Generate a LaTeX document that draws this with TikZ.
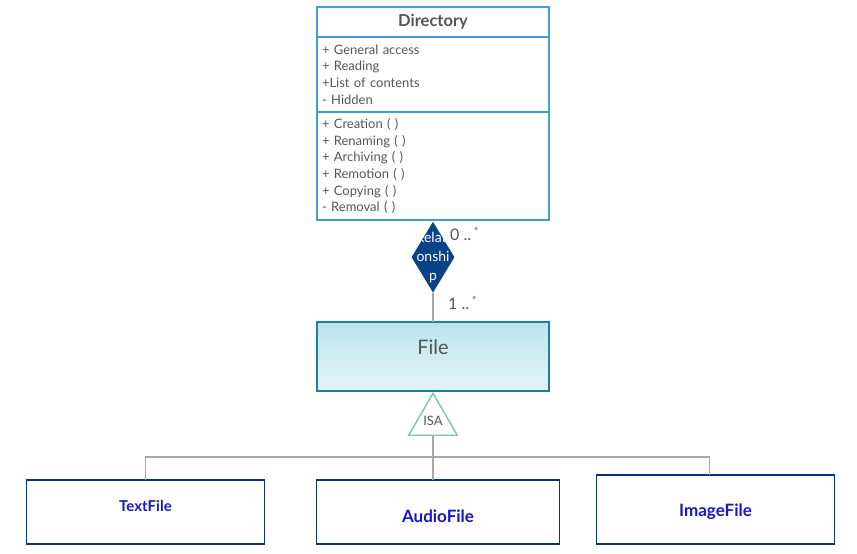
\documentclass[tikz,border=0pt]{standalone}
\usepackage{fontspec}
\setmainfont{Lato}
\usepackage{tikz}
\usetikzlibrary{positioning}
\usetikzlibrary{shapes.geometric}
\definecolor{dirline}{RGB}{64,158,210}
\definecolor{fileline}{RGB}{28,128,160}
\definecolor{filetop}{RGB}{188,228,237}
\definecolor{filebot}{RGB}{228,244,248}
\definecolor{navy}{RGB}{12,48,120}
\definecolor{subtext}{RGB}{22,22,205}
\definecolor{relfill}{RGB}{10,66,136}
\definecolor{isagreen}{RGB}{118,196,164}
\definecolor{linkgrey}{RGB}{168,168,168}
\definecolor{greytext}{RGB}{85,85,85}

\begin{document}
\begin{tikzpicture}[x=1pt,y=1pt,
  box/.style={rectangle,draw=dirline,line width=1.6pt,outer sep=0pt,minimum width=232pt,inner xsep=5pt,inner ysep=0pt,text=greytext},
  members/.style={box,text width=222pt,align=left,font=\fontsize{13}{16.7}\selectfont},
  sub/.style={rectangle,draw=navy,line width=1.6pt,outer sep=0pt,minimum height=64pt},
  subname/.style={text=subtext,font=\fontsize{17}{20}\selectfont\bfseries},
  link/.style={draw=linkgrey,line width=1.7pt},
  mult/.style={inner sep=0pt,text=greytext,font=\fontsize{16}{18}\selectfont}]

  \useasboundingbox (0,0) rectangle (857,-554);

  % Directory
  \node[box,minimum height=30pt,font=\fontsize{16.5}{18}\selectfont\bfseries] (dirname) at (433,-22) {Directory};
  \node[members,minimum height=75pt] (dirattr) [below=0pt of dirname]
    {+ General access\\+ Reading\\+List of contents\\- Hidden};
  \node[members,minimum height=108pt] (dirops) [below=0pt of dirattr]
    {+ Creation ( )\\+ Renaming ( )\\+ Archiving ( )\\+ Remotion ( )\\+ Copying ( )\\- Removal ( )};

  % relationship
  \node[diamond,fill=relfill,minimum width=43pt,minimum height=71pt,inner sep=0pt,
    path picture={\node[anchor=center,text=white,align=center,font=\fontsize{14}{19}\selectfont]
      at (path picture bounding box.center) {Relati\\onshi\\p};}]
    (rel) [below=1.5pt of dirops.south] {};
  \node[mult] (multdir) [below right=12pt and 17pt of rel.north,anchor=west]
    {0 ..\,\raisebox{5pt}{\fontsize{11}{11}\selectfont *}};
  \node[mult] (multfile) [below right=10pt and 15pt of rel.south,anchor=west]
    {1 ..\,\raisebox{5pt}{\fontsize{11}{11}\selectfont *}};

  % File
  \node[box,draw=fileline,minimum height=69pt,top color=filetop,bottom color=filebot,
    label={[text=greytext,font=\fontsize{20}{22}\selectfont,yshift=9pt]center:File}]
    (file) [below=29pt of rel.south] {};
  \node[regular polygon,regular polygon sides=3,draw=isagreen,line width=1.3pt,
    minimum size=56pt,inner sep=0pt,text=greytext,font=\fontsize{13}{15}\selectfont]
    (isa) [below=1pt of file.south] {ISA};

  % subclasses
  \node[sub,minimum width=243pt,label={[subname,yshift=-4pt]center:AudioFile}]
    (audiofile) [below=44pt of isa.south,xshift=5pt] {};
  \node[sub,minimum width=238pt,label={[subname,font=\fontsize{15}{18}\selectfont\bfseries,yshift=6pt]center:TextFile}]
    (textfile) [left=52pt of audiofile] {};
  \node[sub,minimum width=238pt,minimum height=69pt,label={[subname,yshift=-2.5pt]center:ImageFile}]
    (imagefile) [right=37pt of audiofile.south east,anchor=south west] {};

  % links
  \coordinate (bus) at ([yshift=-21pt]isa.south);
  \draw[link] (rel.south) -- (file.north);
  \draw[link] (isa.south) -- (isa.south |- audiofile.north);
  \draw[link] (textfile.north) |- (bus) -| ([xshift=-6pt]imagefile.north);

\end{tikzpicture}
\end{document}
